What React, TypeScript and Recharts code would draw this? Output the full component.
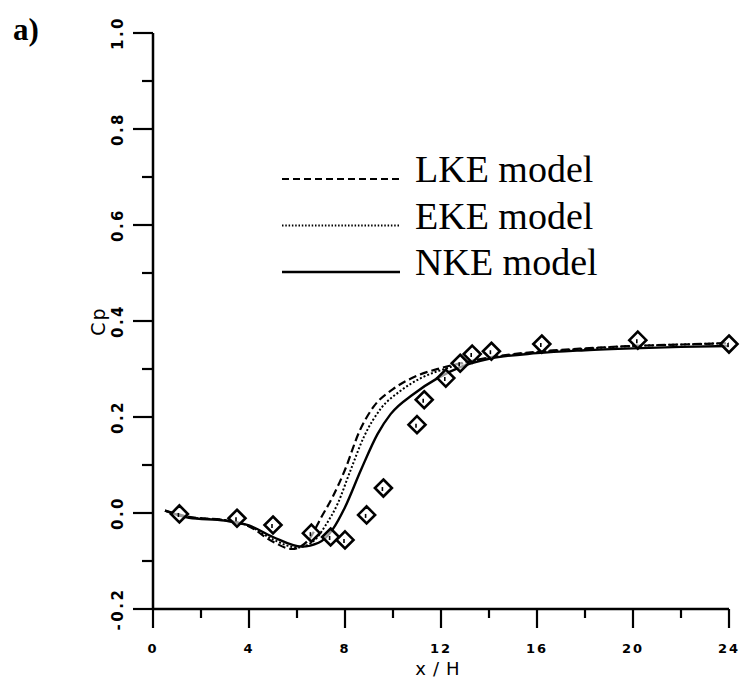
import { ComposedChart, Line, Scatter, XAxis, YAxis, Legend } from "recharts";

// experiment (diamonds)
const expX = [1.1, 3.5, 5.0, 6.6, 7.4, 8.0, 8.9, 9.6, 11.0, 11.3, 12.2, 12.8, 13.3, 14.1, 16.2, 20.2, 24.0];
const expCp = [-0.002, -0.011, -0.025, -0.042, -0.05, -0.056, -0.004, 0.052, 0.184, 0.236, 0.281, 0.312, 0.331, 0.337, 0.352, 0.36, 0.352];

// LKE model (dashed)
const lkeX = [0.5, 1.5, 3, 4, 5, 5.8, 6.5, 7, 7.5, 8, 8.6, 9.2, 10, 11, 12, 13, 14, 16, 18, 20, 22, 24];
const lkeCp = [0.005, -0.008, -0.015, -0.028, -0.06, -0.075, -0.055, -0.01, 0.035, 0.09, 0.17, 0.222, 0.258, 0.286, 0.302, 0.314, 0.324, 0.336, 0.343, 0.348, 0.351, 0.354];

// EKE model (dotted)
const ekeX = [0.5, 1.5, 3, 4, 5, 6, 6.7, 7.2, 7.7, 8.2, 8.8, 9.5, 10.3, 11.2, 12.2, 13, 14, 16, 18, 20, 22, 24];
const ekeCp = [0.005, -0.009, -0.015, -0.027, -0.055, -0.072, -0.058, -0.025, 0.02, 0.085, 0.16, 0.218, 0.254, 0.282, 0.301, 0.313, 0.323, 0.335, 0.342, 0.348, 0.351, 0.354];

// NKE model (solid)
const nkeX = [0.5, 1.5, 3, 4, 5, 6.2, 6.9, 7.5, 8, 8.65, 9.36, 9.9, 10.86, 11.86, 12.8, 14, 16, 18, 20, 22, 24];
const nkeCp = [0.005, -0.01, -0.016, -0.026, -0.05, -0.07, -0.062, -0.033, 0.012, 0.088, 0.165, 0.206, 0.248, 0.281, 0.304, 0.321, 0.333, 0.339, 0.343, 0.346, 0.348];

const xTicks = [0, 2, 4, 6, 8, 10, 12, 14, 16, 18, 20, 22, 24];
const yTicks = [-0.2, -0.1, 0, 0.1, 0.2, 0.3, 0.4, 0.5, 0.6, 0.7, 0.8, 0.9, 1.0];
const legendOrder = ["LKE model", "EKE model", "NKE model"];

const toPts = (xs: number[], ys: number[]) => xs.map((x, i) => ({ x, y: ys[i] }));
const expData = toPts(expX, expCp);
const lkeData = toPts(lkeX, lkeCp);
const ekeData = toPts(ekeX, ekeCp);
const nkeData = toPts(nkeX, nkeCp);

const styles: Record<string, { dash?: string; width: number }> = {
  "LKE model": { dash: "7 4", width: 2.2 },
  "EKE model": { dash: "1.5 1.8", width: 2 },
  "NKE model": { width: 2.4 },
};

const tickFont = "DejaVu Sans, Verdana, sans-serif";

const YTick = ({ x, y, payload }: any) => {
  const v = payload.value as number;
  const major = Math.round(v * 10) % 2 === 0;
  const lx = x - 35;
  return (
    <g>
      <line x1={x - (major ? 20 : 11)} x2={x} y1={y} y2={y} stroke="#000" strokeWidth={2.2} />
      {major && (
        <text
          x={lx}
          y={y}
          transform={`rotate(-90 ${lx} ${y})`}
          textAnchor="middle"
          dominantBaseline="central"
          fontFamily={tickFont}
          fontWeight="bold"
          fontSize={15}
          letterSpacing={2.5}
          fill="#000"
        >
          {v.toFixed(1)}
        </text>
      )}
    </g>
  );
};

const XTick = ({ x, y, payload }: any) => {
  const v = payload.value as number;
  const major = v % 4 === 0;
  return (
    <g>
      <line x1={x} x2={x} y1={y} y2={y + (major ? 19 : 9)} stroke="#000" strokeWidth={2.2} />
      {major && (
        <text
          x={x}
          y={y + 44}
          textAnchor="middle"
          fontFamily={tickFont}
          fontWeight="bold"
          fontSize={13}
          letterSpacing={2}
          fill="#000"
        >
          {v}
        </text>
      )}
    </g>
  );
};

const Diamond = ({ cx, cy }: any) => {
  const r = 8.5;
  return (
    <g>
      <polygon
        points={`${cx},${cy - r} ${cx + r},${cy} ${cx},${cy + r} ${cx - r},${cy}`}
        fill="#fff"
        fillOpacity={0.6}
        stroke="#000"
        strokeWidth={2.6}
      />
      <line x1={cx - 1} x2={cx - 1} y1={cy - 1} y2={cy + 3} stroke="#000" strokeWidth={1.6} />
    </g>
  );
};

const renderLegend = () => (
  <svg width={340} height={150}>
    {legendOrder.map((name, i) => {
      const s = styles[name];
      const base = 42 + i * 46.5;
      return (
        <g key={name}>
          <line
            x1={0}
            x2={118}
            y1={base - 3}
            y2={base - 3}
            stroke="#000"
            strokeWidth={s.width}
            strokeDasharray={s.dash}
          />
          <text x={133} y={base} fontFamily="Liberation Serif, Times New Roman, serif" fontSize={38} fill="#000">
            {name}
          </text>
        </g>
      );
    })}
  </svg>
);

export default function App() {
  return (
    <div style={{ position: "absolute", left: 0, top: 0, width: 740, height: 681, background: "#fff" }}>
      <div
        style={{
          position: "absolute",
          left: 13,
          top: 12,
          fontFamily: "Liberation Serif, Times New Roman, serif",
          fontWeight: "bold",
          fontSize: 31,
          zIndex: 2,
        }}
      >
        a)
      </div>
      <ComposedChart width={740} height={681} margin={{ top: 33, right: 11, left: 0, bottom: 0 }}>
        <XAxis
          type="number"
          dataKey="x"
          domain={[0, 24]}
          ticks={xTicks}
          interval={0}
          height={72}
          tickSize={0}
          tickMargin={0}
          tickLine={false}
          tick={<XTick />}
          axisLine={{ stroke: "#000", strokeWidth: 2.5 }}
          label={{
            content: ({ viewBox }: any) => (
              <text
                x={viewBox.x + viewBox.width / 2}
                y={viewBox.y + 66}
                textAnchor="middle"
                fontFamily={tickFont}
                fontSize={18}
                letterSpacing={7}
                fill="#000"
              >
                x/H
              </text>
            ),
          }}
        />
        <YAxis
          type="number"
          dataKey="y"
          domain={[-0.2, 1.0]}
          ticks={yTicks}
          interval={0}
          width={153}
          tickSize={0}
          tickMargin={0}
          tickLine={false}
          tick={<YTick />}
          axisLine={{ stroke: "#000", strokeWidth: 2.5 }}
          label={{
            content: ({ viewBox }: any) => {
              const lx = viewBox.x + 98;
              const ly = viewBox.y + viewBox.height / 2;
              return (
                <text
                  x={lx}
                  y={ly}
                  transform={`rotate(-90 ${lx} ${ly})`}
                  textAnchor="middle"
                  dominantBaseline="central"
                  fontFamily={tickFont}
                  fontSize={19}
                  letterSpacing={2}
                  fill="#000"
                >
                  Cp
                </text>
              );
            },
          }}
        />
        <Legend
          layout="vertical"
          align="center"
          verticalAlign="middle"
          wrapperStyle={{ left: 282, top: 140, width: 340 }}
          content={renderLegend}
        />
        <Line
          data={lkeData}
          dataKey="y"
          name="LKE model"
          type="monotone"
          stroke="#000"
          strokeWidth={2.2}
          strokeDasharray="8 4"
          dot={false}
          isAnimationActive={false}
        />
        <Line
          data={ekeData}
          dataKey="y"
          name="EKE model"
          type="monotone"
          stroke="#000"
          strokeWidth={2}
          strokeDasharray="2 2"
          dot={false}
          isAnimationActive={false}
        />
        <Line
          data={nkeData}
          dataKey="y"
          name="NKE model"
          type="monotone"
          stroke="#000"
          strokeWidth={2.4}
          dot={false}
          isAnimationActive={false}
        />
        <Scatter data={expData} dataKey="y" shape={<Diamond />} legendType="none" isAnimationActive={false} />
      </ComposedChart>
    </div>
  );
}
